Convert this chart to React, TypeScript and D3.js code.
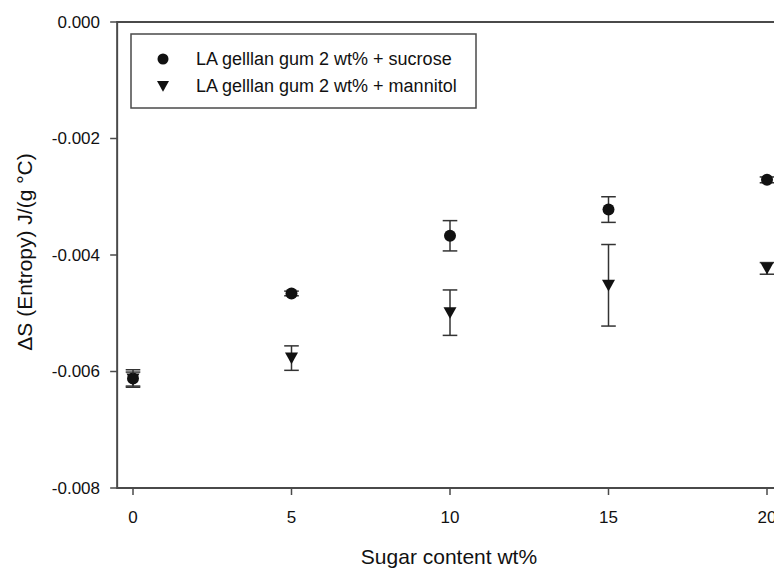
import React from "react";
import * as d3 from "d3";

// Sugar content (wt%) and entropy change ΔS, J/(g °C), with error bars
const sugarContent = [0, 5, 10, 15, 20];
const sucroseMean = [-0.00612, -0.00466, -0.00367, -0.00322, -0.00271];
const sucroseErr = [0.00015, 0.00004, 0.00026, 0.00022, 0.00005];
const mannitolMean = [-0.00613, -0.00577, -0.00499, -0.00452, -0.00423];
const mannitolErr = [0.00012, 0.00021, 0.00039, 0.0007, 0.0001];

const xTicks = [0, 5, 10, 15, 20];
const yTicks = [0, -0.002, -0.004, -0.006, -0.008];

const seriesNames = [
  "LA gelllan gum 2 wt% + sucrose",
  "LA gelllan gum 2 wt% + mannitol",
];

const W = 774;
const H = 568;
const FONT = "'Liberation Sans', Arial, sans-serif";
const AXIS = "#4a4a4a";
const INK = "#111";

export default function App() {
  const x = d3.scaleLinear().domain([0, 20]).range([133, 767]);
  const y = d3.scaleLinear().domain([-0.008, 0]).range([488, 22]);
  const xLeft = x(-0.5);
  const xRight = x(21);

  const series = [
    { mean: sucroseMean, err: sucroseErr, shape: "circle" },
    { mean: mannitolMean, err: mannitolErr, shape: "triangle" },
  ];

  const tri = (cx: number, cy: number, s: number) =>
    `M${cx - s},${cy - s * 0.85}L${cx + s},${cy - s * 0.85}L${cx},${cy + s * 0.95}Z`;

  const fmt = (v: number) => d3.format(".3f")(v).replace("\u2212", "-");

  return (
    <svg
      width={W}
      height={H}
      style={{ position: "absolute", left: 0, top: 0, background: "#fff" }}
      fontFamily={FONT}
    >
      {/* frame lines: left axis, bottom axis, top border */}
      <line x1={xLeft} x2={xLeft} y1={y(0) - 1} y2={y(-0.008) + 1} stroke={AXIS} strokeWidth={2} />
      <line x1={xLeft} x2={xRight} y1={y(-0.008)} y2={y(-0.008)} stroke={AXIS} strokeWidth={2} />
      <line x1={xLeft} x2={xRight} y1={y(0)} y2={y(0)} stroke={AXIS} strokeWidth={2} />

      {/* y ticks */}
      {yTicks.map((t) => (
        <g key={t}>
          <line x1={xLeft - 7} x2={xLeft} y1={y(t)} y2={y(t)} stroke={AXIS} strokeWidth={1.5} />
          <text x={100} y={y(t)} dy="0.35em" textAnchor="end" fontSize={17} fill={INK}>
            {fmt(t)}
          </text>
        </g>
      ))}

      {/* x ticks */}
      {xTicks.map((t) => (
        <g key={t}>
          <line x1={x(t)} x2={x(t)} y1={y(-0.008)} y2={y(-0.008) + 7} stroke={AXIS} strokeWidth={1.5} />
          <text x={x(t)} y={523} textAnchor="middle" fontSize={17} fill={INK}>
            {t}
          </text>
        </g>
      ))}

      {/* axis titles */}
      <text x={449} y={564} textAnchor="middle" fontSize={21} fill={INK}>
        Sugar content wt%
      </text>
      <text
        transform={`translate(32,${252}) rotate(-90)`}
        textAnchor="middle"
        fontSize={21}
        fill={INK}
      >
        ΔS (Entropy) J/(g °C)
      </text>

      {/* error bars and markers */}
      {series.map((s, si) => (
        <g key={si}>
          {sugarContent.map((c, i) => {
            const cx = x(c);
            const lo = y(s.mean[i] - s.err[i]);
            const hi = y(s.mean[i] + s.err[i]);
            return (
              <g key={c}>
                <line x1={cx} x2={cx} y1={lo} y2={hi} stroke="#333" strokeWidth={1.5} />
                <line x1={cx - 7.3} x2={cx + 7.3} y1={lo} y2={lo} stroke="#333" strokeWidth={1.5} />
                <line x1={cx - 7.3} x2={cx + 7.3} y1={hi} y2={hi} stroke="#333" strokeWidth={1.5} />
                {s.shape === "circle" ? (
                  <circle cx={cx} cy={y(s.mean[i])} r={6} fill={INK} />
                ) : (
                  <path d={tri(cx, y(s.mean[i]), 6.5)} fill={INK} />
                )}
              </g>
            );
          })}
        </g>
      ))}

      {/* legend */}
      <rect x={131} y={34} width={345} height={74} fill="#fff" stroke={AXIS} strokeWidth={1.5} />
      <circle cx={163} cy={59} r={5.5} fill={INK} />
      <path d={tri(163, 86, 6)} fill={INK} />
      <text x={196} y={59} dy="0.35em" fontSize={18} fill={INK}>
        {seriesNames[0]}
      </text>
      <text x={196} y={86} dy="0.35em" fontSize={18} fill={INK}>
        {seriesNames[1]}
      </text>
    </svg>
  );
}
